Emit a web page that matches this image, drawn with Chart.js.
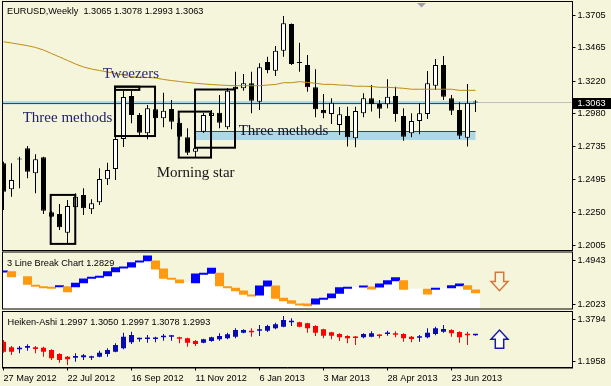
<!DOCTYPE html>
<html><head><meta charset="utf-8">
<script src="https://cdn.jsdelivr.net/npm/chart.js@4.4.0/dist/chart.umd.min.js"></script>
<style>
html,body{margin:0;padding:0;background:#f5f5dc;}
#wrap{position:relative;width:611px;height:386px;background:#f5f5dc;overflow:hidden}
canvas{position:absolute;left:0}
</style></head><body>
<div id="wrap">
<canvas id="c1" width="611" height="251" style="top:0px;width:611px;height:251px"></canvas>
<canvas id="c2" width="611" height="59" style="top:251px;width:611px;height:59px"></canvas>
<canvas id="c3" width="611" height="76" style="top:310px;width:611px;height:76px"></canvas>
</div>
<script>
// ---------- DATA ----------
const tickIdx = [0, 8, 16, 24, 32, 40, 48, 56];
const tickLabels = ['27 May 2012','22 Jul 2012','16 Sep 2012','11 Nov 2012','6 Jan 2013','3 Mar 2013','28 Apr 2013','23 Jun 2013'];
const priceTicks = [1.3705, 1.3465, 1.3220, 1.2980, 1.2735, 1.2495, 1.2250, 1.2005];
const lbTicks = [1.4943, 1.2023];
const haTicks = [1.3794, 1.1958];

const titleMain = 'EURUSD,Weekly  1.3065 1.3078 1.2993 1.3063';
const titleLB = '3 Line Break Chart 1.2829';
const titleHA = 'Heiken-Ashi 1.2997 1.3050 1.2997 1.3078 1.2993';
const lastPrice = 1.3063;

const open  = [1.2614,1.2423,1.2650,1.2725,1.2541,1.2658,1.2253,1.2241,1.2103,1.2290,
               1.2381,1.2275,1.2327,1.2496,1.2572,1.2793,1.3110,1.2970,1.2835,1.3012,
               1.2946,1.3014,1.2913,1.2806,1.2700,1.2847,1.2963,1.2987,1.2880,1.3179,
               1.3167,1.3204,1.3068,1.3361,1.3297,1.3444,1.3641,1.3359,1.3339,1.3174,
               1.3007,1.2978,1.2896,1.2963,1.2798,1.2983,1.3093,1.3051,1.3049,1.3110,
               1.2963,1.2835,1.2926,1.2978,1.3186,1.3339,1.3093,1.3007,1.2803,1.3065];
const high  = [1.2626,1.2614,1.2663,1.2742,1.2681,1.2663,1.2263,1.2314,1.2344,1.2393,
               1.2430,1.2349,1.2577,1.2619,1.2810,1.3147,1.3147,1.2985,1.3044,1.3110,
               1.3135,1.3081,1.2948,1.2872,1.2742,1.2985,1.3007,1.3118,1.3169,1.3289,
               1.3272,1.3289,1.3351,1.3400,1.3479,1.3700,1.3645,1.3503,1.3412,1.3307,
               1.3125,1.3093,1.3029,1.3031,1.3031,1.3130,1.3191,1.3081,1.3233,1.3179,
               1.3020,1.2983,1.3056,1.3294,1.3383,1.3405,1.3118,1.3064,1.3199,1.3078];
const low   = [1.2270,1.2368,1.2430,1.2504,1.2393,1.2241,1.2215,1.2123,1.2025,1.2285,
               1.2233,1.2241,1.2307,1.2454,1.2491,1.2734,1.2909,1.2810,1.2791,1.2911,
               1.2880,1.2865,1.2786,1.2675,1.2658,1.2838,1.2955,1.2872,1.2865,1.3151,
               1.3149,1.2983,1.3007,1.3278,1.3258,1.3400,1.3339,1.3289,1.3142,1.2953,
               1.2946,1.2904,1.2823,1.2737,1.2732,1.2953,1.2995,1.2946,1.3020,1.2921,
               1.2781,1.2806,1.2828,1.2941,1.3154,1.3081,1.2970,1.2793,1.2737,1.2993];
const close = [1.2405,1.2491,1.2642,1.2552,1.2644,1.2265,1.2221,1.2143,1.2300,1.2368,
               1.2283,1.2319,1.2499,1.2565,1.2793,1.3103,1.2970,1.2840,1.3020,1.2946,
               1.3002,1.2921,1.2810,1.2692,1.2725,1.2970,1.2987,1.2913,1.3149,1.3160,
               1.3204,1.3076,1.3322,1.3302,1.3444,1.3646,1.3346,1.3353,1.3174,1.3012,
               1.2983,1.3061,1.2975,1.2806,1.3000,1.3093,1.3051,1.3017,1.3105,1.2978,
               1.2810,1.2926,1.2983,1.3204,1.3339,1.3105,1.3002,1.2818,1.3061,1.3063];
const ma    = [1.3510,1.3501,1.3491,1.3481,1.3468,1.3449,1.3423,1.3398,1.3372,1.3346,
               1.3324,1.3309,1.3298,1.3287,1.3276,1.3265,1.3254,1.3247,1.3247,1.3243,
               1.3232,1.3224,1.3217,1.3210,1.3204,1.3199,1.3195,1.3191,1.3188,1.3186,
               1.3186,1.3186,1.3186,1.3191,1.3195,1.3208,1.3208,1.3216,1.3210,1.3204,
               1.3196,1.3196,1.3191,1.3189,1.3182,1.3182,1.3180,1.3174,1.3174,1.3171,
               1.3167,1.3160,1.3160,1.3160,1.3160,1.3160,1.3160,1.3152,1.3152,1.3152];

// horizontal bands (index range, price range, line level)
const bandFrom = [-0.2, 24.06];
const bandTo   = [59, 59];
const bandHigh = [1.3073, 1.2852];
const bandLow  = [1.3048, 1.2786];
const bandLine = [1.3055, 1.2852];

// pattern boxes
const boxFrom = [5.9, 13.94, 13.94, 21.9, 23.94];
const boxTo   = [8.97, 18.94, 16.98, 25.94, 28.94];
const boxHigh = [1.2381, 1.3179, 1.3179, 1.2995, 1.3158];
const boxLow  = [1.2020, 1.2815, 1.3155, 1.2656, 1.2729];

// annotations
const noteText  = ['Tweezers', 'Three methods', 'Three methods', 'Morning star'];
const noteIdx   = [12.4, 2.4, 29.4, 19.15];
const notePrice = [1.3243, 1.2919, 1.2819, 1.2510];
const noteColor = ['#2b2b6b', '#22226a', '#15152a', '#151515'];
const shiftIdx = 52.25;

// 3 line break bricks (1 = up/blue, -1 = down/orange, 0 = none)
const lbHigh = [1.4248,1.4201,1.3864,1.3864,1.3284,1.3190,1.3149,1.3257,1.3190,1.3419,
                1.3709,1.3824,1.3891,1.4201,1.4471,1.4518,1.4808,1.4923,1.5260,1.4923,
                1.4383,1.3756,1.3642,1.3460,1.4046,1.4093,1.4431,1.4093,1.3190,1.3082,
                1.2900,1.2630,1.3237,1.3574,1.3237,1.2408,1.2246,1.2023,1.2023,1.2360,
                1.2408,1.2698,1.3122,1.3149,1.3149,1.3237,1.3170,1.3372,1.3594,1.3797,
                1.3594,1.3014,1.3014,1.3014,1.3082,1.3082,1.3257,1.3372,1.3257,1.2967];
const lbLow  = [1.4181,1.3864,1.3864,1.3352,1.3217,1.3123,1.3082,1.3190,1.2852,1.3190,
                1.3460,1.3757,1.3824,1.3932,1.4201,1.4451,1.4518,1.4856,1.4943,1.4383,
                1.3756,1.3689,1.3460,1.3460,1.3460,1.4026,1.4093,1.3257,1.3123,1.2920,
                1.2677,1.2563,1.2630,1.3237,1.2408,1.2246,1.2070,1.1956,1.1909,1.2023,
                1.2341,1.2448,1.2745,1.3082,1.3149,1.3170,1.3035,1.3170,1.3372,1.3594,
                1.3014,1.3014,1.3014,1.2698,1.3015,1.3082,1.3122,1.3257,1.3014,1.2785];
const lbDir  = [1,-1,0,-1,-1,-1,-1,1,-1,1,
                1,1,1,1,1,1,1,1,1,-1,
                -1,-1,-1,0,1,1,1,-1,-1,-1,
                -1,-1,1,1,-1,-1,-1,-1,-1,1,
                1,1,1,1,0,1,-1,1,1,1,
                -1,0,0,-1,1,0,1,1,-1,-1];
const lbArrow = {idx: 62, from: 1.4161, to: 1.2920};

// Heiken-Ashi
const haOpen  = [1.2820,1.2576,1.2490,1.2562,1.2576,1.2562,1.2461,1.2289,1.2175,1.2132,
                 1.2146,1.2132,1.2175,1.2289,1.2390,1.2533,1.2791,1.2920,1.2934,1.2934,
                 1.3006,1.3035,1.3006,1.2963,1.2848,1.2777,1.2848,1.2920,1.2963,1.3035,
                 1.3206,1.3235,1.3293,1.3293,1.3393,1.3464,1.3651,1.3651,1.3608,1.3493,
                 1.3350,1.3221,1.3149,1.3063,1.3035,1.3006,1.3035,1.3106,1.3149,1.3178,
                 1.3149,1.3035,1.2992,1.3006,1.3149,1.3249,1.3321,1.3235,1.3149,1.3092];
const haHigh  = [1.2891,1.2633,1.2633,1.2705,1.2633,1.2605,1.2490,1.2318,1.2203,1.2318,
                 1.2289,1.2218,1.2433,1.2533,1.2748,1.3206,1.3249,1.2992,1.3106,1.3035,
                 1.3149,1.3106,1.3035,1.2992,1.2891,1.2949,1.3035,1.3178,1.3206,1.3393,
                 1.3350,1.3393,1.3536,1.3550,1.3636,1.3923,1.3823,1.3679,1.3636,1.3522,
                 1.3378,1.3249,1.3178,1.3092,1.3063,1.3178,1.3264,1.3149,1.3293,1.3264,
                 1.3178,1.3063,1.3106,1.3393,1.3464,1.3536,1.3350,1.3264,1.3249,1.3135];
const haLow   = [1.2347,1.2246,1.2318,1.2433,1.2318,1.2175,1.2031,1.1917,1.1817,1.1960,
                 1.2031,1.2031,1.2146,1.2175,1.2361,1.2490,1.2719,1.2820,1.2777,1.2791,
                 1.2863,1.2863,1.2748,1.2605,1.2633,1.2748,1.2820,1.2863,1.2920,1.2963,
                 1.3178,1.3035,1.3063,1.3235,1.3350,1.3436,1.3493,1.3436,1.3206,1.3063,
                 1.2963,1.2920,1.2848,1.2748,1.2676,1.2963,1.3006,1.2963,1.3077,1.3006,
                 1.2820,1.2791,1.2820,1.2963,1.3092,1.3206,1.3035,1.2777,1.2676,1.3077];
const haClose = [1.2390,1.2390,1.2562,1.2633,1.2504,1.2390,1.2103,1.2031,1.2060,1.2203,
                 1.2232,1.2175,1.2347,1.2461,1.2676,1.3035,1.3106,1.2963,1.2992,1.2992,
                 1.3063,1.3063,1.2949,1.2777,1.2719,1.2920,1.3006,1.3063,1.3135,1.3321,
                 1.3321,1.3221,1.3350,1.3493,1.3565,1.3751,1.3708,1.3464,1.3393,1.3206,
                 1.3077,1.3077,1.3006,1.2963,1.2977,1.3149,1.3178,1.3063,1.3206,1.3121,
                 1.2963,1.2934,1.3035,1.3206,1.3393,1.3364,1.3178,1.3006,1.3092,1.3121];
const haArrow = {idx: 62, from: 1.3321, to: 1.2534};

// ---------- STYLE ----------
const FONT = '"Liberation Sans", Arial, sans-serif';
const SERIF = '"Liberation Serif", "Times New Roman", serif';
const BG = '#f5f5dc';
Chart.defaults.font.family = FONT;
Chart.defaults.font.size = 9.2;
Chart.defaults.color = '#000';
Chart.defaults.animation = false;

const X_MIN = -0.125, X_MAX = 71.125;
const AXIS_W = 38.5;
const idx = open.map((_, i) => i);

function yAxis(min, max, ticks) {
  return {
    type: 'linear', position: 'right', min, max, bounds: 'data',
    afterBuildTicks: s => { s.ticks = ticks.map(v => ({value: v})); },
    afterFit: s => { s.width = AXIS_W; s.paddingTop = 0; s.paddingBottom = 0; },
    ticks: { callback: v => Number(v).toFixed(4), color: '#000', padding: 2, autoSkip: false, font: {size: 9.2} },
    grid: { drawOnChartArea: false, drawTicks: true, tickLength: 3, color: '#000', lineWidth: 1 },
    border: { display: true, color: '#000', width: 1 }
  };
}
function hiddenX() {
  return { type: 'linear', min: X_MIN, max: X_MAX, display: false, offset: false, bounds: 'data' };
}
function frame(ctx, a) {
  ctx.save();
  ctx.strokeStyle = '#000'; ctx.lineWidth = 1;
  ctx.strokeRect(a.left, a.top - 0.5, a.right - a.left, a.bottom - a.top + 1);
  ctx.restore();
}
function drawArrow(ctx, cx, yTop, yBot, dir, stroke, fill) {
  const h = yBot - yTop, hw = 8.5, sw = 4.2, split = yTop + h * 0.5;
  ctx.save();
  ctx.beginPath();
  if (dir < 0) {
    ctx.moveTo(cx - sw, yTop); ctx.lineTo(cx + sw, yTop); ctx.lineTo(cx + sw, split);
    ctx.lineTo(cx + hw, split); ctx.lineTo(cx, yBot); ctx.lineTo(cx - hw, split); ctx.lineTo(cx - sw, split);
  } else {
    ctx.moveTo(cx - sw, yBot); ctx.lineTo(cx + sw, yBot); ctx.lineTo(cx + sw, split);
    ctx.lineTo(cx + hw, split); ctx.lineTo(cx, yTop); ctx.lineTo(cx - hw, split); ctx.lineTo(cx - sw, split);
  }
  ctx.closePath();
  if (fill) { ctx.fillStyle = fill; ctx.fill(); }
  ctx.strokeStyle = stroke; ctx.lineWidth = 1.5; ctx.stroke();
  ctx.restore();
}

// ---------- MAIN CHART ----------
const mainDecor = {
  id: 'mainDecor',
  beforeDatasetsDraw(chart) {
    const {ctx, chartArea: a, scales: {x, y}} = chart;
    ctx.save();
    ctx.beginPath(); ctx.rect(a.left, a.top, a.right - a.left, a.bottom - a.top); ctx.clip();
    const py = Math.round(y.getPixelForValue(lastPrice)) + 0.5;
    ctx.strokeStyle = '#c0c0c0'; ctx.lineWidth = 1;
    ctx.beginPath(); ctx.moveTo(a.left, py); ctx.lineTo(a.right, py); ctx.stroke();
    for (let i = 0; i < bandFrom.length; i++) {
      const x0 = x.getPixelForValue(bandFrom[i]), x1 = x.getPixelForValue(bandTo[i]);
      const y0 = y.getPixelForValue(bandHigh[i]), y1 = y.getPixelForValue(bandLow[i]);
      ctx.fillStyle = '#add8e6'; ctx.fillRect(x0, y0, x1 - x0, y1 - y0);
      const ly = Math.round(y.getPixelForValue(bandLine[i])) + 0.5;
      ctx.strokeStyle = '#2f4f4f'; ctx.beginPath(); ctx.moveTo(x0, ly); ctx.lineTo(x1, ly); ctx.stroke();
    }
    ctx.restore();
  },
  afterDatasetsDraw(chart) {
    const {ctx, chartArea: a, scales: {x, y}} = chart;
    ctx.save();
    ctx.beginPath(); ctx.rect(a.left, a.top, a.right - a.left, a.bottom - a.top); ctx.clip();
    ctx.strokeStyle = '#000'; ctx.lineWidth = 2;
    for (let i = 0; i < boxFrom.length; i++) {
      const x0 = x.getPixelForValue(boxFrom[i]), x1 = x.getPixelForValue(boxTo[i]);
      const y0 = y.getPixelForValue(boxHigh[i]), y1 = y.getPixelForValue(boxLow[i]);
      ctx.strokeRect(x0, y0, x1 - x0, y1 - y0);
    }
    ctx.font = '15px ' + SERIF; ctx.textBaseline = 'alphabetic'; ctx.textAlign = 'left';
    for (let i = 0; i < noteText.length; i++) {
      ctx.fillStyle = noteColor[i];
      ctx.fillText(noteText[i], x.getPixelForValue(noteIdx[i]), y.getPixelForValue(notePrice[i]));
    }
    const tx = x.getPixelForValue(shiftIdx);
    ctx.fillStyle = '#a0a0a0';
    ctx.beginPath(); ctx.moveTo(tx - 4.5, a.top + 1); ctx.lineTo(tx + 4.5, a.top + 1); ctx.lineTo(tx, a.top + 5.5); ctx.closePath(); ctx.fill();
    ctx.restore();
  },
  afterDraw(chart) {
    const {ctx, chartArea: a, scales: {y}, width} = chart;
    frame(ctx, a);
    ctx.save();
    ctx.font = '9.2px ' + FONT; ctx.fillStyle = '#000'; ctx.textBaseline = 'alphabetic';
    ctx.fillText(titleMain, 7, 14);
    const py = y.getPixelForValue(lastPrice) + 1;
    ctx.fillStyle = '#000'; ctx.fillRect(a.right, Math.round(py - 5.5), width - a.right, 11);
    ctx.fillStyle = '#fff'; ctx.textBaseline = 'middle';
    ctx.fillText(lastPrice.toFixed(4), a.right + 5, Math.round(py - 5.5) + 5.8);
    ctx.restore();
  }
};

new Chart(document.getElementById('c1'), {
  type: 'bar',
  data: {
    datasets: [
      { type: 'line', label: 'MA', data: idx.map(i => ({x: i, y: ma[i]})), borderColor: '#c08a10', borderWidth: 1,
        pointRadius: 0, tension: 0, order: 0 },
      { label: 'body', data: idx.map(i => ({x: i, y: [open[i], close[i]]})),
        backgroundColor: idx.map(i => close[i] >= open[i] ? '#ffffff' : '#000000'),
        borderColor: '#000', borderWidth: 1, borderSkipped: false, barThickness: 5, minBarLength: 1,
        inflateAmount: 0, grouped: false, order: 1 },
      { label: 'wick', data: idx.map(i => ({x: i, y: [low[i], high[i]]})), backgroundColor: '#000',
        borderWidth: 0, barThickness: 1, inflateAmount: 0, grouped: false, order: 2 }
    ]
  },
  options: {
    responsive: false, devicePixelRatio: 1, events: [],
    layout: { padding: { left: 2.5, right: 0, top: 2, bottom: 1 } },
    plugins: { legend: { display: false }, tooltip: { enabled: false } },
    scales: { x: hiddenX(), y: yAxis(1.1975, 1.3803, priceTicks) }
  },
  plugins: [mainDecor]
});

// ---------- 3 LINE BREAK ----------
const LB_MIN = 1.1720, LB_MAX = 1.5496;
const lbDecor = {
  id: 'lbDecor',
  afterDraw(chart) {
    const {ctx, chartArea: a, scales: {x, y}} = chart;
    frame(ctx, a);
    ctx.save();
    ctx.font = '9.2px ' + FONT; ctx.fillStyle = '#000'; ctx.textBaseline = 'alphabetic';
    ctx.fillText(titleLB, 7, 14.7);
    drawArrow(ctx, x.getPixelForValue(lbArrow.idx), y.getPixelForValue(lbArrow.from), y.getPixelForValue(lbArrow.to), -1, '#d2783c', null);
    ctx.restore();
  }
};
new Chart(document.getElementById('c2'), {
  type: 'bar',
  data: {
    datasets: [
      { label: 'bricks', data: idx.map(i => ({x: i, y: lbDir[i] === 0 ? null : [lbLow[i], lbHigh[i]]})),
        backgroundColor: idx.map(i => lbDir[i] > 0 ? '#0000ff' : '#ff9a10'),
        borderWidth: 0, barThickness: 8, inflateAmount: 0.5, grouped: false, order: 1 },
      { label: 'area', data: idx.map(i => ({x: i, y: [LB_MIN, lbLow[i]]})), backgroundColor: '#ffffff',
        borderWidth: 0, barThickness: 8, inflateAmount: 0.5, grouped: false, order: 2 }
    ]
  },
  options: {
    responsive: false, devicePixelRatio: 1, events: [],
    layout: { padding: { left: 2.5, right: 0, top: 1.5, bottom: 1.5 } },
    plugins: { legend: { display: false }, tooltip: { enabled: false } },
    scales: { x: hiddenX(), y: yAxis(LB_MIN, LB_MAX, lbTicks) }
  },
  plugins: [lbDecor]
});

// ---------- HEIKEN-ASHI ----------
const haDecor = {
  id: 'haDecor',
  afterDraw(chart) {
    const {ctx, chartArea: a, scales: {x, y}} = chart;
    frame(ctx, a);
    ctx.save();
    ctx.font = '9.2px ' + FONT; ctx.fillStyle = '#000'; ctx.textBaseline = 'alphabetic';
    ctx.fillText(titleHA, 7.5, 15);
    drawArrow(ctx, x.getPixelForValue(haArrow.idx), y.getPixelForValue(haArrow.from), y.getPixelForValue(haArrow.to), 1, '#1a1aa8', '#ffffff');
    ctx.restore();
  }
};
const haCol = idx.map(i => haClose[i] >= haOpen[i] ? '#0a0ab4' : '#ff0000');
new Chart(document.getElementById('c3'), {
  type: 'bar',
  data: {
    datasets: [
      { label: 'ha body', data: idx.map(i => ({x: i, y: [haOpen[i], haClose[i]]})), backgroundColor: haCol,
        borderWidth: 0, barThickness: 5, minBarLength: 1.5, inflateAmount: 0, grouped: false, order: 1 },
      { label: 'ha wick', data: idx.map(i => ({x: i, y: [haLow[i], haHigh[i]]})), backgroundColor: haCol,
        borderWidth: 0, barThickness: 1, inflateAmount: 0, grouped: false, order: 2 }
    ]
  },
  options: {
    responsive: false, devicePixelRatio: 1, events: [],
    layout: { padding: { left: 2.5, right: 0, top: 2, bottom: 0 } },
    plugins: { legend: { display: false }, tooltip: { enabled: false } },
    scales: {
      x: {
        type: 'linear', position: 'bottom', min: X_MIN, max: X_MAX, offset: false, bounds: 'data',
        afterBuildTicks: s => { s.ticks = tickIdx.map(v => ({value: v})); },
        afterFit: s => { s.height = 18.5; s.paddingLeft = 0; s.paddingRight = 0; },
        ticks: { callback: (v, i) => tickLabels[i], align: 'start', maxRotation: 0, minRotation: 0,
                 autoSkip: false, padding: 2.5, color: '#000', font: {size: 9.2} },
        grid: { drawOnChartArea: false, drawTicks: true, tickLength: 3, color: '#000', offset: false },
        border: { display: true, color: '#000' }
      },
      y: yAxis(1.1709, 1.4095, haTicks)
    }
  },
  plugins: [haDecor]
});
</script>
</body></html>
